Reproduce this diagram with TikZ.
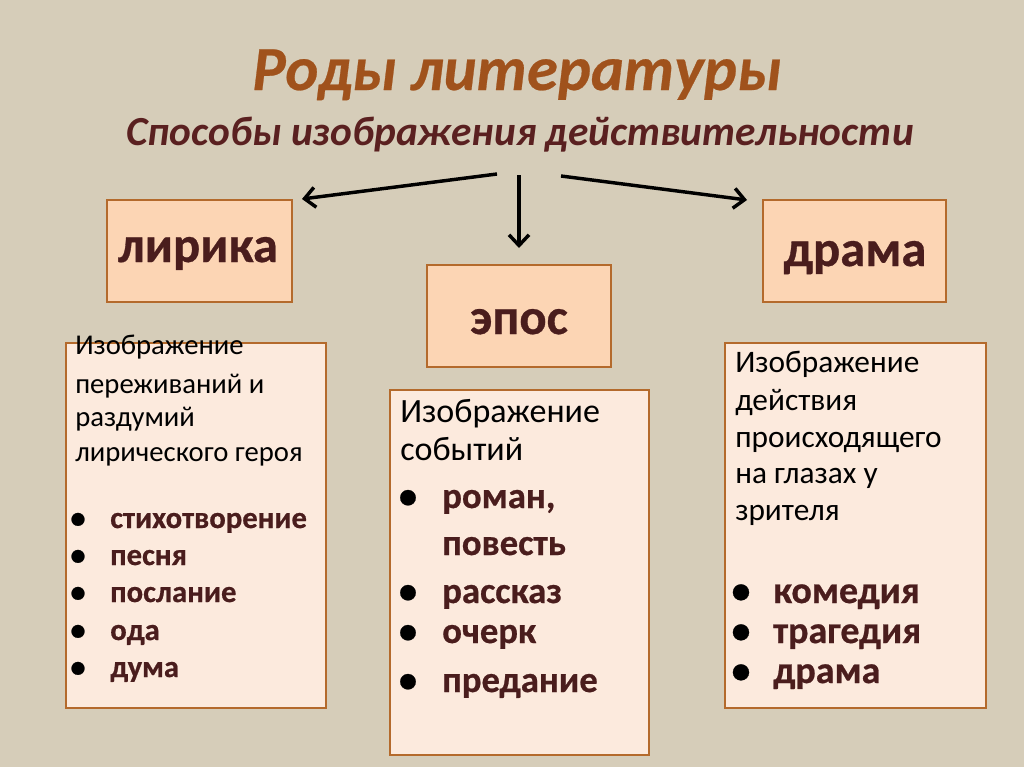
\documentclass[tikz,border=0pt]{standalone}
\usepackage{fontspec}
\setmainfont{Carlito}
\newfontfamily\itemfont[FakeBold=0.6]{Carlito Bold}
\newfontfamily\titlefont[FakeBold=0.4]{Carlito Bold Italic}
\usetikzlibrary{arrows.meta}
\definecolor{bg}{HTML}{D6CDB9}
\definecolor{topfill}{HTML}{FCD5B4}
\definecolor{descfill}{HTML}{FCEADD}
\definecolor{boxline}{HTML}{B46A2C}
\definecolor{titlecol}{HTML}{A0521C}
\definecolor{subcol}{HTML}{5A2020}
\definecolor{itemcol}{HTML}{4A1D1D}
\tikzset{
  topbox/.style={draw=boxline, line width=2.2pt, fill=topfill, inner sep=0pt,
    minimum height=76.5pt},
  toplabel/.style={anchor=base, inner sep=0pt, font=\fontsize{38}{40}\itemfont, text=itemcol},
  descbox/.style={draw=boxline, line width=2.2pt, fill=descfill, inner sep=0pt,
    minimum height=273.75pt},
  ln/.style={anchor=base west, inner sep=0pt},
  bul/.style={anchor=base, inner sep=0pt},
  arr/.style={line width=2.6pt, -{Straight Barb[length=8pt,width=15pt]}},
}
\begin{document}
\begin{tikzpicture}[x=0.75pt,y=-0.75pt]
\useasboundingbox (0,0) rectangle (1024,767);
\fill[bg] (0,0) rectangle (1024,767);

% title
\node[anchor=base, inner sep=0pt, text=titlecol, font=\fontsize{47}{50}\titlefont] (title) at (517,90) {Роды литературы};
\node[anchor=base, inner sep=0pt, text=subcol, font=\fontsize{31}{34}\selectfont\bfseries\itshape] (sub) at (520,145) {Способы изображения действительности};

% arrows
\coordinate (sL) at (497,174);
\coordinate (eL) at (302,199);
\coordinate (sM) at (519,175);
\coordinate (eM) at (519,248);
\coordinate (sR) at (561,176);
\coordinate (eR) at (747,200);
\draw[arr] (sL) -- (eL);
\draw[arr] (sM) -- (eM);
\draw[arr] (sR) -- (eR);

% top boxes
\node[topbox, minimum width=138.75pt] (lyr) at (199.5,251) {};
\node[toplabel] (lyrt) at (198,262) {лирика};
\node[topbox, minimum width=138pt] (epos) at (519,316) {};
\node[toplabel] (epost) at (519,334) {эпос};
\node[topbox, minimum width=137.25pt] (dram) at (854.5,251) {};
\node[toplabel] (dramt) at (855,266) {драма};

% description boxes
\node[descbox, minimum width=195pt] (dl) at (196,525.5) {};
\node[descbox, minimum width=194.25pt] (dm) at (519.5,572.5) {};
\node[descbox, minimum width=195.75pt] (dr) at (855.5,525.5) {};

% left text
\begin{scope}[every node/.append style={font=\fontsize{21.5}{24}\selectfont}]
\node[ln] (l1) at (75,354) {Изображение};
\node[ln] (l2) at (75,393) {переживаний и};
\node[ln] (l3) at (75,426) {раздумий};
\node[ln] (l4) at (75,461) {лирического героя};
\end{scope}
\begin{scope}[every node/.append style={font=\fontsize{23}{25}\itemfont, text=itemcol}]
\node[bul, text=black] (lb1) at (78,528) {•};
\node[ln] (li1) at (110,528) {стихотворение};
\node[bul, text=black] (lb2) at (78,565) {•};
\node[ln] (li2) at (110,565) {песня};
\node[bul, text=black] (lb3) at (78,602) {•};
\node[ln] (li3) at (110,602) {послание};
\node[bul, text=black] (lb4) at (78,640) {•};
\node[ln] (li4) at (110,640) {ода};
\node[bul, text=black] (lb5) at (78,677) {•};
\node[ln] (li5) at (110,677) {дума};
\end{scope}

% middle text
\begin{scope}[every node/.append style={font=\fontsize{25.5}{28}\selectfont}]
\node[ln] (m1) at (400,422) {Изображение};
\node[ln] (m2) at (400,460) {событий};
\end{scope}
\begin{scope}[every node/.append style={font=\fontsize{27.5}{30}\itemfont, text=itemcol}]
\node[bul, text=black] (mb1) at (408,508) {•};
\node[ln] (mi1) at (442,508) {роман,};
\node[ln] (mi1b) at (442,555) {повесть};
\node[bul, text=black] (mb2) at (408,603) {•};
\node[ln] (mi2) at (442,603) {рассказ};
\node[bul, text=black] (mb3) at (408,643) {•};
\node[ln] (mi3) at (442,643) {очерк};
\node[bul, text=black] (mb4) at (408,692) {•};
\node[ln] (mi4) at (442,692) {предание};
\end{scope}

% right text
\begin{scope}[every node/.append style={font=\fontsize{23.5}{26}\selectfont}]
\node[ln] (r1) at (735,372) {Изображение};
\node[ln] (r2) at (735,410) {действия};
\node[ln] (r3) at (735,447) {происходящего};
\node[ln] (r4) at (735,483) {на глазах у};
\node[ln] (r5) at (735,520) {зрителя};
\end{scope}
\begin{scope}[every node/.append style={font=\fontsize{28.5}{30}\itemfont, text=itemcol}]
\node[bul, text=black] (rb1) at (741,603) {•};
\node[ln] (ri1) at (773,603) {комедия};
\node[bul, text=black] (rb2) at (741,643) {•};
\node[ln] (ri2) at (773,643) {трагедия};
\node[bul, text=black] (rb3) at (741,683) {•};
\node[ln] (ri3) at (773,683) {драма};
\end{scope}
\end{tikzpicture}
\end{document}
